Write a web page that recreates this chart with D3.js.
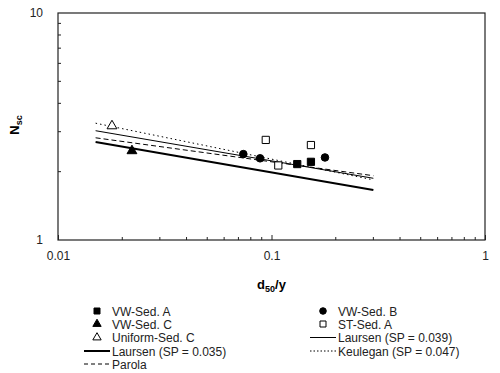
<!DOCTYPE html>
<html lang="en">
<head>
  <meta charset="UTF-8">
  <title>Nsc vs d50/y</title>
  <script src="https://d3js.org/d3.v7.min.js"></script>
  <style>
    body { margin: 0; background: #fff; }
    text { font-family: "Liberation Sans", Arial, sans-serif; }
  </style>
</head>
<body>
  <script>
    // data
    const xTicks = [0.01, 0.1, 1];
    const yTicks = [1, 10];

    const vwSedA = [[0.132, 2.16], [0.153, 2.21]];
    const vwSedB = [[0.0738, 2.39], [0.0884, 2.29], [0.178, 2.31]];
    const vwSedC = [[0.0222, 2.47]];
    const stSedA = [[0.094, 2.76], [0.1076, 2.13], [0.153, 2.62]];
    const uniSedC = [[0.0179, 3.18]];

    const laursen035 = [[0.015, 2.70], [0.3, 1.66]];
    const laursen039 = [[0.015, 3.03], [0.3, 1.87]];
    const keulegan047 = [[0.015, 3.27], [0.3, 1.84]];
    const parola = [[0.015, 2.82], [0.3, 1.92]];

    const width = 500, height = 373;
    const m = { left: 58, right: 15, top: 13, bottom: 133 };
    const iw = width - m.left - m.right, ih = height - m.top - m.bottom;

    const svg = d3.select("body").append("svg")
      .attr("width", width).attr("height", height);

    const x = d3.scaleLog().domain([0.01, 1]).range([0, iw]);
    const y = d3.scaleLog().domain([1, 10]).range([ih, 0]);

    const g = svg.append("g").attr("transform", `translate(${m.left},${m.top})`);

    // frame
    g.append("rect")
      .attr("width", iw).attr("height", ih)
      .attr("fill", "none").attr("stroke", "#222").attr("stroke-width", 1.2);

    // minor ticks
    const minorX = [], minorY = [];
    [0.01, 0.1].forEach(d => { for (let k = 2; k <= 9; k++) minorX.push(d * k); });
    for (let k = 2; k <= 9; k++) minorY.push(k);

    g.selectAll(".mx").data(minorX).enter().append("line")
      .attr("x1", d => x(d)).attr("x2", d => x(d))
      .attr("y1", ih).attr("y2", ih - 3)
      .attr("stroke", "#222");
    g.selectAll(".my").data(minorY).enter().append("line")
      .attr("x1", 0).attr("x2", 3)
      .attr("y1", d => y(d)).attr("y2", d => y(d))
      .attr("stroke", "#222");

    // axes
    const xAxis = g.append("g").attr("transform", `translate(0,${ih})`)
      .call(d3.axisBottom(x).tickValues(xTicks).tickFormat(d3.format("")).tickSizeInner(-5).tickSizeOuter(0).tickPadding(11));
    const yAxis = g.append("g")
      .call(d3.axisLeft(y).tickValues(yTicks).tickFormat(d3.format("")).tickSizeInner(0).tickSizeOuter(0).tickPadding(15));
    [xAxis, yAxis].forEach(a => {
      a.select(".domain").remove();
      a.selectAll("line").attr("stroke", "#222");
      a.selectAll("text").attr("font-size", 12).attr("fill", "#222")
        .attr("font-family", "Liberation Sans, Arial, sans-serif");
    });

    // axis titles
    const xt = svg.append("text")
      .attr("x", m.left + iw / 2).attr("y", 289)
      .attr("text-anchor", "middle").attr("font-size", 13).attr("font-weight", "bold");
    xt.append("tspan").text("d");
    xt.append("tspan").attr("font-size", 9).attr("dy", 3).text("50");
    xt.append("tspan").attr("dy", -3).text("/y");

    const yt = svg.append("text")
      .attr("transform", "translate(19,125) rotate(-90)")
      .attr("text-anchor", "middle").attr("font-size", 13).attr("font-weight", "bold");
    yt.append("tspan").text("N");
    yt.append("tspan").attr("font-size", 9).attr("dy", 3).text("sc");

    // curves
    const line = d3.line().x(d => x(d[0])).y(d => y(d[1]));
    const curves = [
      { data: laursen035, w: 2, dash: null },
      { data: laursen039, w: 1, dash: null },
      { data: keulegan047, w: 1, dash: "1.5,3" },
      { data: parola, w: 1, dash: "5,3" }
    ];
    curves.forEach(c => {
      g.append("path").datum(c.data).attr("d", line)
        .attr("fill", "none").attr("stroke", "#000")
        .attr("stroke-width", c.w).attr("stroke-dasharray", c.dash);
    });

    // markers
    const sym = {
      square: d3.symbol().type(d3.symbolSquare).size(52),
      circle: d3.symbol().type(d3.symbolCircle).size(45),
      triangle: d3.symbol().type(d3.symbolTriangle).size(42)
    };
    const series = [
      { data: vwSedA, shape: "square", fill: "#000" },
      { data: vwSedB, shape: "circle", fill: "#000" },
      { data: vwSedC, shape: "triangle", fill: "#000" },
      { data: stSedA, shape: "square", fill: "#fff" },
      { data: uniSedC, shape: "triangle", fill: "#fff" }
    ];
    series.forEach(s => {
      g.selectAll(null).data(s.data).enter().append("path")
        .attr("d", sym[s.shape])
        .attr("transform", d => `translate(${x(d[0])},${y(d[1])})`)
        .attr("fill", s.fill).attr("stroke", "#000").attr("stroke-width", 1);
    });

    // legend
    const legend = [
      { col: 0, row: 0, label: "VW-Sed. A", shape: "square", fill: "#000" },
      { col: 0, row: 1, label: "VW-Sed. C", shape: "triangle", fill: "#000" },
      { col: 0, row: 2, label: "Uniform-Sed. C", shape: "triangle", fill: "#fff" },
      { col: 0, row: 3, label: "Laursen (SP = 0.035)", line: 2, dash: null },
      { col: 0, row: 4, label: "Parola", line: 1, dash: "4,3" },
      { col: 1, row: 0, label: "VW-Sed. B", shape: "circle", fill: "#000" },
      { col: 1, row: 1, label: "ST-Sed. A", shape: "square", fill: "#fff" },
      { col: 1, row: 2, label: "Laursen (SP = 0.039)", line: 1, dash: null },
      { col: 1, row: 3, label: "Keulegan (SP = 0.047)", line: 1, dash: "1.5,2" }
    ];
    const colX = [97, 323], rowY = [311, 324, 337.5, 351, 364];
    const lsym = {
      square: d3.symbol().type(d3.symbolSquare).size(36),
      circle: d3.symbol().type(d3.symbolCircle).size(34),
      triangle: d3.symbol().type(d3.symbolTriangle).size(30)
    };
    legend.forEach(d => {
      const cx = colX[d.col], cy = rowY[d.row];
      if (d.shape) {
        svg.append("path").attr("d", lsym[d.shape])
          .attr("transform", `translate(${cx},${cy})`)
          .attr("fill", d.fill).attr("stroke", "#000");
      } else {
        svg.append("line")
          .attr("x1", cx - 13).attr("x2", cx + 13)
          .attr("y1", cy).attr("y2", cy)
          .attr("stroke", "#000").attr("stroke-width", d.line)
          .attr("stroke-dasharray", d.dash);
      }
      svg.append("text")
        .attr("x", cx + 15).attr("y", cy + 4.5)
        .attr("font-size", 12).attr("fill", "#222")
        .text(d.label);
    });
  </script>
</body>
</html>
